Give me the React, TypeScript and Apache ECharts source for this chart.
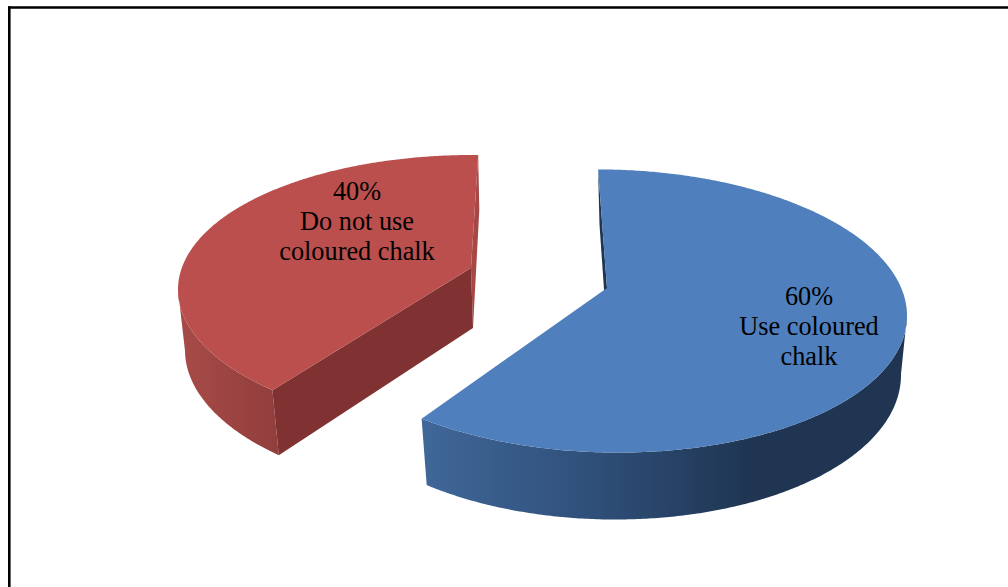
import React, { useEffect, useRef } from "react";
import * as echarts from "echarts";

// Survey result: how many respondents use coloured chalk.
const categories = ["Use coloured\nchalk", "Do not use\ncoloured chalk"];
const shares = [60, 40];

const topColours = ["#4f7fbc", "#bb4f4d"];
const edgeColours = ["#1f3552", "#a54846"];
const cutColours = ["#1f3552", "#7f3231"];

type Disc = { cx: number; cy: number; rx: number; ry: number; shear: number; hubX: number; hubY: number };

// Perspective outline of each exploded slice: the upper and lower discs and where their hubs land.
const sliceGeometry: { top: Disc; bottom: Disc; turn: number; label: [number, number] }[] = [
  {
    top: { cx: 608, cy: 311, rx: 299, ry: 141.5, shear: 0.016, hubX: 607, hubY: 288 },
    bottom: { cx: 609.5, cy: 372, rx: 291.5, ry: 147.5, shear: 0.01, hubX: 608, hubY: 347 },
    turn: -2,
    label: [809, 326],
  },
  {
    top: { cx: 478, cy: 292, rx: 300, ry: 137, shear: 0.008, hubX: 471, hubY: 268 },
    bottom: { cx: 477, cy: 352.3, rx: 292, ry: 142.3, shear: 0.008, hubX: 473, hubY: 328 },
    turn: 1.2,
    label: [357, 221],
  },
];

// How strongly the off-centre hub bends the rim angles.
const rimPull = 0.8;

// Rim parameter on a disc for a compass angle (clockwise from the back), after perspective.
function rimParam(d: Disc, deg: number): number {
  const px = (d.hubX - d.cx) / d.rx;
  const py = (d.hubY - d.cy) / d.ry;
  const k = rimPull / (1 + Math.sqrt(1 - px * px - py * py));
  const ax = px * k;
  const ay = py * k;
  const alpha = ((deg - 90) * Math.PI) / 180;
  const zx = Math.cos(alpha);
  const zy = -Math.sin(alpha);
  const re = 1 + ax * zx - ay * zy;
  const im = ax * zy + ay * zx;
  return alpha + 2 * Math.atan2(im, re);
}

function rimPoint(d: Disc, deg: number): number[] {
  const t = rimParam(d, deg);
  const x = d.cx + d.rx * Math.cos(t);
  return [x, d.cy + d.ry * Math.sin(t) + d.shear * (x - d.cx)];
}

function sweep(from: number, to: number): number[] {
  const steps = Math.max(8, Math.ceil(Math.abs(to - from) * 2));
  const out: number[] = [];
  for (let i = 0; i <= steps; i++) out.push(from + ((to - from) * i) / steps);
  return out;
}

const wallFills = [
  {
    type: "linear", global: true, x: 423, y: 0, x2: 907, y2: 0,
    colorStops: [
      { offset: 0, color: "#3f6798" },
      { offset: 0.35, color: "#2f4f79" },
      { offset: 0.68, color: "#1f3552" },
      { offset: 1, color: "#1f3552" },
    ],
  },
  {
    type: "linear", global: true, x: 178, y: 0, x2: 277, y2: 0,
    colorStops: [
      { offset: 0, color: "#a84b48" },
      { offset: 1, color: "#913e3c" },
    ],
  },
];

function renderSlice(params: any, api: any) {
  const i = params.dataIndex;
  const g = sliceGeometry[i];
  const total = shares.reduce((a, b) => a + b, 0);
  const before = shares.slice(0, i).reduce((a, b) => a + b, 0);
  const start = (before / total) * 360 + g.turn;
  const end = start + (api.value(0) / total) * 360;
  const poly = (points: number[][], fill: any) => ({ type: "polygon", shape: { points }, style: { fill } });
  const topHub = [g.top.hubX, g.top.hubY];
  const bottomHub = [g.bottom.hubX, g.bottom.hubY];
  const arc = sweep(start, end);

  // Only the front half of the curved side faces the viewer.
  const front = arc.filter((deg) => Math.sin(rimParam(g.top, deg)) >= 0);
  const wall = [
    ...front.map((deg) => rimPoint(g.top, deg)),
    ...front.slice().reverse().map((deg) => rimPoint(g.bottom, deg)),
  ];
  const face = (deg: number, fill: string) =>
    poly([rimPoint(g.top, deg), topHub, bottomHub, rimPoint(g.bottom, deg)], fill);

  const children: any[] = [poly(wall, wallFills[i])];
  if (i === 0) {
    children.push(face(start, edgeColours[i]));
  } else {
    children.push(face(end, edgeColours[i]));
    children.push(face(start, cutColours[i]));
  }
  children.push(poly([topHub, ...arc.map((deg) => rimPoint(g.top, deg))], topColours[i]));
  children.push({
    type: "text",
    style: {
      x: g.label[0],
      y: g.label[1],
      text: `${api.value(0)}%\n${categories[i]}`,
      fontFamily: "Liberation Serif",
      fontSize: 26.3,
      lineHeight: 30,
      fill: "#000",
      align: "center",
      verticalAlign: "middle",
    },
  });
  return { type: "group", children };
}

export default function App() {
  const ref = useRef<HTMLDivElement>(null);
  useEffect(() => {
    const chart = echarts.init(ref.current!, undefined, { renderer: "svg" });
    chart.setOption({
      animation: false,
      backgroundColor: "#fff",
      graphic: [
        { type: "rect", shape: { x: 8, y: 6.3, width: 1000, height: 2.5 }, style: { fill: "#000" } },
        { type: "rect", shape: { x: 8, y: 6.3, width: 2.6, height: 581 }, style: { fill: "#000" } },
      ],
      series: [
        {
          type: "custom",
          coordinateSystem: "none",
          silent: true,
          data: shares,
          renderItem: renderSlice,
        },
      ],
    });
    return () => chart.dispose();
  }, []);
  return <div ref={ref} style={{ position: "fixed", left: 0, top: 0, width: 1008, height: 587 }} />;
}
